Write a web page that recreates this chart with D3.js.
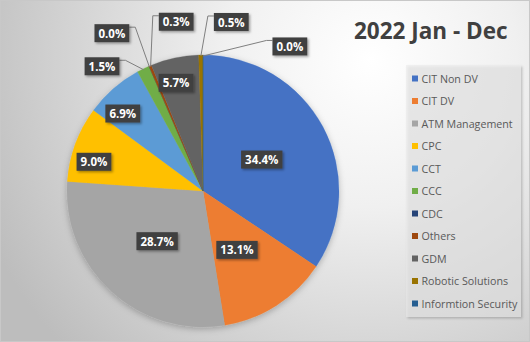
<!DOCTYPE html>
<html>
<head>
<meta charset="utf-8">
<script src="https://cdn.jsdelivr.net/npm/d3@7"></script>
<style>
  html, body { margin: 0; padding: 0; background: #d0d0d0; }
  svg { display: block; }
</style>
</head>
<body>
<svg id="chart" width="530" height="342"></svg>
<script>
// Share of revenue by service line, 2022 Jan - Dec (percent)
const categories = ["CIT Non DV", "CIT DV", "ATM Management", "CPC", "CCT", "CCC",
                    "CDC", "Others", "GDM", "Robotic Solutions", "Informtion Security"];
const shares = [34.4, 13.1, 28.7, 9.0, 6.9, 1.5, 0.0, 0.3, 5.7, 0.5, 0.0];
const colors = ["#4472C4", "#ED7D31", "#A5A5A5", "#FFC000", "#5B9BD5", "#70AD47",
                "#264478", "#9E480E", "#636363", "#997300", "#255E91"];
const title = "2022 Jan - Dec";

// Label placement: radius as a fraction of the pie radius and the angle (deg, clockwise
// from 12 o'clock). null angle = slice's middle angle.
const labelRadius = [0.49, 0.5, 0.5, 0.83, 0.82, 1.18, 1.34, 1.26, 0.82, 1.26, 1.24];
const labelAngle  = [null, 150, null, 285, 314, 321, 330, 351, 346, 9.5, 31];

const W = 530, H = 342;
const cx = 203, cy = 191, R = 136;

const svg = d3.select("#chart");
const defs = svg.append("defs");

const bg = defs.append("radialGradient").attr("id", "bg")
  .attr("gradientUnits", "userSpaceOnUse")
  .attr("cx", 370).attr("cy", 60).attr("r", 420);
bg.append("stop").attr("offset", "0%").attr("stop-color", "#ffffff");
bg.append("stop").attr("offset", "35%").attr("stop-color", "#f0f0f0");
bg.append("stop").attr("offset", "100%").attr("stop-color", "#bdbdbd");

const shadow = defs.append("filter").attr("id", "shadow")
  .attr("x", "-30%").attr("y", "-30%").attr("width", "160%").attr("height", "160%");
shadow.append("feDropShadow").attr("dx", 1.5).attr("dy", 1.5)
  .attr("stdDeviation", 1.2).attr("flood-color", "#000").attr("flood-opacity", 0.35);

const pieShadow = defs.append("filter").attr("id", "pieShadow")
  .attr("x", "-20%").attr("y", "-20%").attr("width", "140%").attr("height", "140%");
pieShadow.append("feDropShadow").attr("dx", 0).attr("dy", 2)
  .attr("stdDeviation", 3).attr("flood-color", "#000").attr("flood-opacity", 0.25);

svg.append("rect").attr("width", W).attr("height", H).attr("fill", "url(#bg)");
svg.append("rect").attr("x", 0.5).attr("y", 0.5).attr("width", W - 1).attr("height", H - 1)
  .attr("fill", "none").attr("stroke", "#c8c8c8");

// Pie
const pie = d3.pie().value(d => d).sort(null).startAngle(0).endAngle(2 * Math.PI);
const arcs = pie(shares);
const arc = d3.arc().innerRadius(0).outerRadius(R);

const g = svg.append("g").attr("transform", `translate(${cx},${cy})`);
g.append("g").attr("filter", "url(#pieShadow)")
  .selectAll("path").data(arcs).join("path")
  .attr("d", arc)
  .attr("fill", (d, i) => colors[i])
  .attr("stroke", (d, i) => colors[i])
  .attr("stroke-width", 0.3);

// Data labels
const rad = a => a * Math.PI / 180;
const polar = (r, a) => [r * Math.sin(a), -r * Math.cos(a)];
const fmt = v => v.toFixed(1) + "%";

const labels = g.append("g");
arcs.forEach((d, i) => {
  const mid = (d.startAngle + d.endAngle) / 2;
  const ang = labelAngle[i] == null ? mid : rad(labelAngle[i]);
  const [lx, ly] = polar(labelRadius[i] * R, ang);
  const lg = labels.append("g");
  const t = lg.append("text")
    .attr("x", lx).attr("y", ly)
    .attr("text-anchor", "middle").attr("dominant-baseline", "central")
    .attr("font-family", "'Open Sans', sans-serif")
    .attr("font-weight", "bold").attr("font-size", 11.5)
    .attr("fill", "#ffffff")
    .text(fmt(shares[i]));
  const tw = t.node().getComputedTextLength();
  const bw = tw + 8, bh = 18;
  const bx = lx - bw / 2, by = ly - bh / 2;
  lg.insert("rect", "text")
    .attr("x", bx).attr("y", by).attr("width", bw).attr("height", bh)
    .attr("fill", "#404040").attr("filter", "url(#shadow)");

  // Leader lines for labels placed outside the pie
  if (labelRadius[i] > 1) {
    const [px, py] = polar(R - 1, mid);
    const right = px > lx;
    const ex = right ? bx + bw : bx;
    const ey = by + 3;
    const stub = right ? ex + 6 : ex - 6;
    labels.insert("path", ":first-child")
      .attr("d", d3.line()([[ex, ey], [stub, ey], [px, py]]))
      .attr("fill", "none").attr("stroke", "#7f7f7f").attr("stroke-width", 1);
  }
});

// Title
svg.append("text")
  .attr("x", 354).attr("y", 39)
  .attr("font-family", "'Open Sans', sans-serif")
  .attr("font-weight", "bold").attr("font-size", 22.5)
  .attr("fill", "#404040")
  .text(title);

// Legend
const lgX = 406, lgY = 65, lgW = 115, lgH = 252, step = 22.5;
svg.append("rect").attr("x", lgX).attr("y", lgY).attr("width", lgW).attr("height", lgH)
  .attr("fill", "#e9e9e9").attr("fill-opacity", 0.55)
  .attr("filter", "url(#shadow)");
const legend = svg.append("g").attr("transform", `translate(${lgX},${lgY})`);
const items = legend.selectAll("g").data(categories).join("g")
  .attr("transform", (d, i) => `translate(6,${13.5 + i * step})`);
items.append("rect").attr("x", 0).attr("y", -3).attr("width", 6).attr("height", 6)
  .attr("fill", (d, i) => colors[i]);
items.append("text").attr("x", 9.5).attr("y", 0)
  .attr("dominant-baseline", "central")
  .attr("font-family", "'Open Sans', sans-serif").attr("font-size", 10.7)
  .attr("fill", "#595959")
  .text(d => d);
</script>
</body>
</html>
